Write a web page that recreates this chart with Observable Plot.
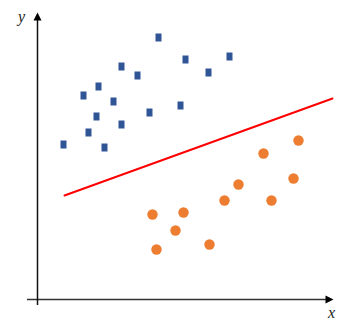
<!DOCTYPE html>
<html>
<head>
<meta charset="utf-8">
<script src="https://cdn.jsdelivr.net/npm/d3@7"></script>
<script src="https://cdn.jsdelivr.net/npm/@observablehq/plot@0.6"></script>
<style>
  html, body { margin: 0; padding: 0; background: #fff; }
</style>
</head>
<body>
<div id="chart"></div>
<script>
// Class A (blue squares)
const blueX = [121, 84, 100, 61, 46, 76, 112, 143, 59, 84, 51, 26, 67, 148, 171, 192];
const blueY = [262, 233, 224, 213, 204, 198, 187, 194, 183, 175, 167, 155, 152, 240, 227, 243];
// Class B (orange circles)
const orangeX = [261, 226, 115, 138, 119, 146, 201, 187, 172, 234, 256];
const orangeY = [159, 146, 85, 69, 50, 87, 115, 99, 55, 99, 121];
// Separating line endpoints
const lineX = [27, 295];
const lineY = [104, 201];
// Axis labels
const axisLabels = ["x", "y"];

const blue = blueX.map((x, i) => ({x, y: blueY[i]}));
const orange = orangeX.map((x, i) => ({x, y: orangeY[i]}));
const sep = lineX.map((x, i) => ({x, y: lineY[i]}));

const W = 353, H = 328;
const xDom = [-37, 316], yDom = [-29, 299];
const xAxisEnd = 296, yAxisEnd = 287;

const rectSymbol = { draw(ctx) { ctx.rect(-3, -4, 6, 8); } };
const arrowSymbol = { draw(ctx) { ctx.moveTo(0, 0); ctx.lineTo(-4, 8); ctx.lineTo(4, 8); ctx.closePath(); } };

const chart = Plot.plot({
  width: W, height: H,
  margin: 0,
  x: {domain: xDom, axis: null},
  y: {domain: yDom, axis: null},
  marks: [
    // axes
    Plot.ruleY([0], {x1: -10, x2: xAxisEnd - 6, stroke: "#333", strokeWidth: 1.5}),
    Plot.ruleX([0], {y1: -6, y2: yAxisEnd - 6, stroke: "#111", strokeWidth: 1.5}),
    Plot.dot([{x: 0, y: yAxisEnd}], {x: "x", y: "y", symbol: arrowSymbol, fill: "#000", stroke: "none"}),
    Plot.dot([{x: xAxisEnd, y: 0}], {x: "x", y: "y", symbol: arrowSymbol, fill: "#000", stroke: "none", rotate: 90}),
    Plot.text([axisLabels[1]], {frameAnchor: "top-left", dx: 21, dy: 16, lineAnchor: "middle", text: d => d, fontStyle: "italic", fontFamily: "Liberation Serif", fontSize: 16, fill: "#222", textAnchor: "middle"}),
    Plot.text([axisLabels[0]], {frameAnchor: "top-left", dx: 331, dy: 312, lineAnchor: "middle", text: d => d, fontStyle: "italic", fontFamily: "Liberation Serif", fontSize: 16, fill: "#222", textAnchor: "middle"}),
    // separating line
    Plot.line(sep, {x: "x", y: "y", stroke: "#FF0000", strokeWidth: 2}),
    // points
    Plot.dot(blue, {x: "x", y: "y", symbol: rectSymbol, fill: "#2F5597", stroke: "none"}),
    Plot.dot(orange, {x: "x", y: "y", r: 5.2, fill: "#ED7D31", stroke: "none"})
  ]
});
document.getElementById("chart").appendChild(chart);
</script>
</body>
</html>
